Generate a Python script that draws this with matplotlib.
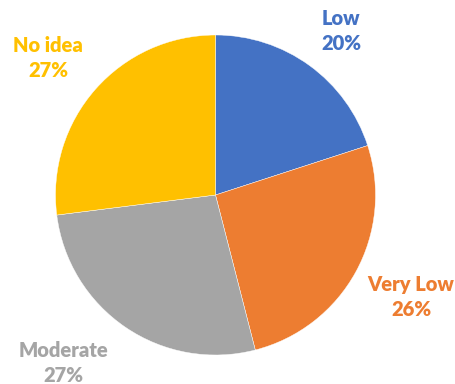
import matplotlib.pyplot as plt

# 数据
categories = ["Low", "Very Low", "Moderate", "No idea"]
values = [20, 26, 27, 27]
colors = ["#4472C4", "#ED7D31", "#A5A5A5", "#FFC000"]

# 标签位置（像素坐标，y 从上往下）
label_pos = [(341, 31), (411, 297), (63, 363), (48, 58)]

W, H = 455, 384
fig = plt.figure(figsize=(W / 100, H / 100), dpi=100)
ax = fig.add_axes([0, 0, 1, 1])

ax.pie(values, colors=colors, startangle=90, counterclock=False,
       center=(215.5, H - 195), radius=160,
       wedgeprops=dict(linewidth=0.3, edgecolor="white"))

for name, v, c, (x, y) in zip(categories, values, colors, label_pos):
    ax.text(x, H - y, f"{name}\n{v}%", color=c, ha="center", va="center",
            fontsize=14.5, fontweight="heavy", family="Lato", linespacing=1.4)

ax.set_xlim(0, W)
ax.set_ylim(0, H)
ax.set_aspect("equal")
ax.axis("off")

fig.savefig("out.png", dpi=100)
